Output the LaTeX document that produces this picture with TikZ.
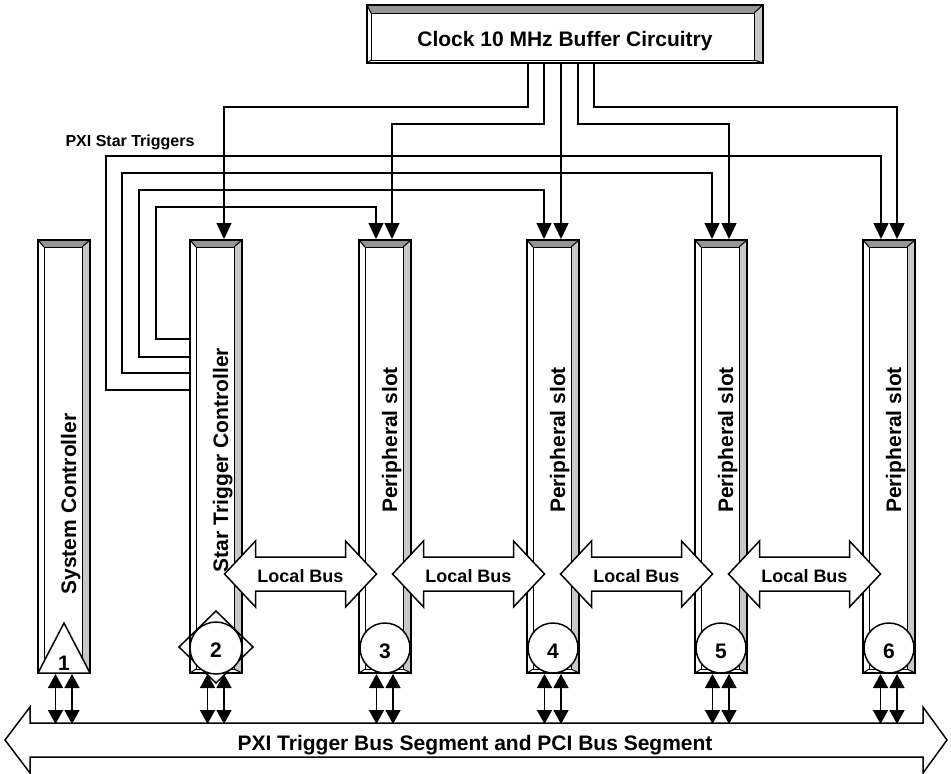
\documentclass[tikz,border=0pt]{standalone}
\usepackage{fontspec}
\setmainfont{Liberation Sans}
\usetikzlibrary{arrows.meta,calc}
\definecolor{bevdk}{HTML}{969696}
\definecolor{bevlt}{HTML}{C8C8C8}
\begin{document}
\begin{tikzpicture}[x=1pt,y=-1pt,
  wire/.style={line width=1.5pt},
  arr/.style={wire,-{Triangle[length=16pt,width=15pt]}},
  darr/.style={wire,{Triangle[length=14pt,width=15pt]}-{Triangle[length=14pt,width=15pt]}},
  slotbox/.style={draw,line width=2pt,minimum width=52pt,minimum height=433pt,inner sep=0pt},
  thinl/.style={line width=1pt},
  bigtxt/.style={font=\fontsize{21}{21}\selectfont\bfseries,inner sep=0pt},
  slottxt/.style={bigtxt,rotate=90,anchor=base},
  lbtxt/.style={font=\fontsize{18}{18}\selectfont\bfseries,inner sep=0pt,anchor=base},
  numtxt/.style={font=\fontsize{21}{21}\selectfont\bfseries,inner sep=0pt,anchor=base}
]
\useasboundingbox (0,0) rectangle (951,774);

% clock box
\fill[bevdk] (367,5) -- (763,5) -- (754,13) -- (371,13) -- cycle;
\fill[bevlt] (763,5) -- (763,63) -- (754,60) -- (754,13) -- cycle;
\draw[thinl] (371,13) rectangle (754,60);
\draw[thinl] (367,5) -- (371,13) (763,5) -- (754,13) (763,63) -- (754,60) (367,63) -- (371,60);
\node[draw,line width=2pt,minimum width=396pt,minimum height=58pt,inner sep=0pt] (clk) at (565,34) {};
\node[bigtxt,anchor=base] (clkt) at (565,46) {Clock 10 MHz Buffer Circuitry};

% slots
\foreach \i/\x in {1/38,2/190,3/359,4/527,5/695,6/863} {
  \fill[bevlt] (\x+52,240) -- (\x+52,673) -- (\x+44,669) -- (\x+44,247) -- cycle;
  \fill[bevdk] (\x,240) -- (\x+52,240) -- (\x+44,247) -- (\x+6,247) -- cycle;
  \draw[thinl] (\x+6,247) rectangle (\x+44,669);
  \draw[thinl] (\x,240) -- (\x+6,247) (\x+52,240) -- (\x+44,247) (\x+52,673) -- (\x+44,669) (\x,673) -- (\x+6,669);
  \node[slotbox] (s\i) at (\x+26,456.5) {};
}

% clock lines
\draw[arr] ([xshift=-37pt]clk.south) -- ++(0,43) -| ([xshift=8pt]s2.north);
\draw[arr] ([xshift=-21pt]clk.south) -- ++(0,60) -| ([xshift=7pt]s3.north);
\draw[arr] ([xshift=-4pt]clk.south) -- ([xshift=8pt]s4.north);
\draw[arr] ([xshift=13pt]clk.south) -- ++(0,60) -| ([xshift=8pt]s5.north);
\draw[arr] ([xshift=29pt]clk.south) -- ++(0,43) -| ([xshift=8pt]s6.north);

% star trigger lines
\node[font=\fontsize{16}{16}\selectfont\bfseries,inner sep=0pt,anchor=base] (pst) at (130,146) {PXI Star Triggers};
\draw[arr] ([yshift=117.5pt]s2.west) -- ++(-33,0) -- ++(0,-132) -| ([xshift=-9pt]s3.north);
\draw[arr] ([yshift=99.5pt]s2.west) -- ++(-50,0) -- ++(0,-167) -| ([xshift=-9pt]s4.north);
\draw[arr] ([yshift=83.5pt]s2.west) -- ++(-67,0) -- ++(0,-200) -| ([xshift=-9pt]s5.north);
\draw[arr] ([yshift=66.5pt]s2.west) -- ++(-83,0) -- ++(0,-234) -| ([xshift=-8pt]s6.north);

% slot labels
\node[slottxt] (t1) at (76,504) {System Controller};
\node[slottxt] (t2) at (228,460) {Star Trigger Controller};
\foreach \i/\x in {3/359,4/527,5/695,6/863}
  \node[slottxt] (t\i) at (\x+38,440) {Peripheral slot};

% local bus arrows
\foreach \c [count=\k] in {300.5,468.5,636.5,804.5} {
  \draw[line width=1.5pt,fill=white] (\c-76,574) -- (\c-45,541) -- (\c-45,557) -- (\c+45,557) -- (\c+45,541) -- (\c+76,574) -- (\c+45,607) -- (\c+45,591) -- (\c-45,591) -- (\c-45,607) -- cycle;
  \node[lbtxt] (lb\k) at (\c,582) {Local Bus};
}

% slot markers
\draw[line width=1.5pt,fill=white] (64,623) -- (90,673) -- (38,673) -- cycle;
\node[numtxt] (n1) at (64,670) {1};
\draw[line width=1.5pt] (216,611) -- (253,647) -- (216,683) -- (179,647) -- cycle;
\draw[line width=1.5pt,fill=white] (216,648) circle[radius=26];
\node[numtxt] (n2) at (216,657) {2};
\foreach \i/\x in {3/385,4/553,5/721,6/889} {
  \draw[line width=1.5pt,fill=white] (\x,648) circle[radius=25];
  \node[numtxt] (n\i) at (\x,658) {\i};
}

% PXI trigger / PCI bus
\draw[line width=1.5pt,fill=white] (5,740) -- (30,707) -- (30,723) -- (923,723) -- (923,707) -- (947,740) -- (923,773) -- (923,757) -- (30,757) -- (30,773) -- cycle;
\node[bigtxt,anchor=base] (busl) at (475,750) {PXI Trigger Bus Segment and PCI Bus Segment};

\foreach \i in {1,...,6} {
  \draw[darr] ([xshift=-8.5pt]s\i.south) -- ++(0,50);
  \draw[darr] ([xshift=8pt]s\i.south) -- ++(0,50);
}
\end{tikzpicture}
\end{document}
